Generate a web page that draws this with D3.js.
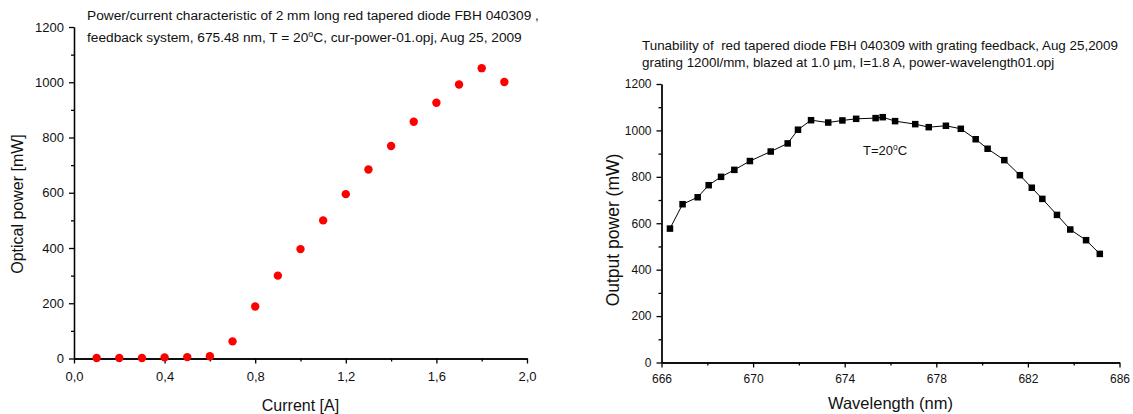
<!DOCTYPE html>
<html>
<head>
<meta charset="utf-8">
<script src="https://cdn.jsdelivr.net/npm/d3@7"></script>
<style>
  body { margin: 0; background: #fff; }
  svg { display: block; font-family: "Liberation Sans", Arial, sans-serif; }
  .domain { stroke: #000; stroke-width: 1.3; }
  .tick line { stroke: #000; stroke-width: 1.3; }
  .tick text { fill: #111; }
</style>
</head>
<body>
<svg id="canvas" width="1133" height="414"></svg>
<script>
// left chart: power vs current
const currentA = [0.1, 0.2, 0.3, 0.4, 0.5, 0.6, 0.7, 0.8, 0.9, 1.0, 1.1, 1.2, 1.3, 1.4, 1.5, 1.6, 1.7, 1.8, 1.9]
const opticalMW = [2, 2, 2, 4, 5, 8, 62, 188, 300, 396, 500, 595, 684, 769, 857, 926, 992, 1051, 1001]
const currentTicks = [0, 0.4, 0.8, 1.2, 1.6, 2.0]
const currentMinor = [0.2, 0.6, 1.0, 1.4, 1.8]
const powerTicks = [0, 200, 400, 600, 800, 1000, 1200]
const powerMinor = [100, 300, 500, 700, 900, 1100]

// right chart: tunability
const wavelengthNm = [666.37, 666.92, 667.58, 668.06, 668.6, 669.18, 669.86, 670.77, 671.51, 671.96,
  672.53, 673.28, 673.9, 674.5, 675.35, 675.66, 676.2, 677.08, 677.67, 678.42, 679.07, 679.72,
  680.24, 680.97, 681.65, 682.17, 682.63, 683.27, 683.85, 684.54, 685.14]
const outputMW = [577, 682, 712, 764, 800, 830, 868, 909, 944, 1003, 1044, 1034, 1043, 1050, 1053,
  1057, 1040, 1027, 1014, 1020, 1007, 962, 921, 872, 807, 753, 705, 636, 573, 527, 468]
const waveTicks = [666, 670, 674, 678, 682, 686]
const waveMinor = [668, 672, 676, 680, 684]

const svg = d3.select("#canvas")

// adds major + minor ticks for one axis
const drawAxis = (g, axisFn, scale, major, minor, fmt, fontSize, pad) => {
    g.append("g").call(axisFn(scale).tickValues(minor).tickFormat("").tickSize(3).tickSizeOuter(0))
    const a = g.append("g").call(axisFn(scale).tickValues(major).tickFormat(fmt).tickSize(5).tickSizeOuter(0).tickPadding(pad))
    a.selectAll(".tick text").attr("font-size", fontSize)
    g.selectAll("text").attr("font-family", null)
    return a
}

const addTitle = (x, y, lines, gap, size) => {
    const t = svg.append("text").attr("x", x).attr("y", y).attr("font-size", size).attr("fill", "#111")
    lines.forEach((parts, i) => {
        parts.forEach((p, j) => {
            const ts = t.append("tspan").text(p.t)
            if (j === 0) ts.attr("x", x).attr("dy", i === 0 ? 0 : gap)
            if (p.sup) ts.attr("font-size", size * 0.65).attr("baseline-shift", "60%")
        })
    })
}

// ---------- left ----------
const xL = d3.scaleLinear().domain([0, 2]).range([74, 527])
const yL = d3.scaleLinear().domain([0, 1200]).range([358.5, 27])
const commaFmt = d => d3.format(".1f")(d).replace(".", ",")

const gLx = svg.append("g").attr("transform", `translate(0,${yL(0)})`)
drawAxis(gLx, d3.axisBottom, xL, currentTicks, currentMinor, commaFmt, 13, 8)
const gLy = svg.append("g").attr("transform", `translate(${xL(0)},0)`)
drawAxis(gLy, d3.axisLeft, yL, powerTicks, powerMinor, d3.format("d"), 13, 5)

svg.append("g").selectAll("circle")
    .data(currentA.map((c, i) => [c, opticalMW[i]]))
    .enter().append("circle")
    .attr("cx", d => xL(d[0]))
    .attr("cy", d => yL(d[1]))
    .attr("r", 4.2)
    .attr("fill", "#ff0000")

svg.append("text").attr("x", 300.5).attr("y", 411).attr("text-anchor", "middle")
    .attr("font-size", 16).attr("fill", "#111").text("Current [A]")
svg.append("text").attr("transform", "translate(23,204) rotate(-90)").attr("text-anchor", "middle")
    .attr("font-size", 16).attr("fill", "#111").text("Optical power [mW]")

addTitle(87, 20, [
    [{t: "Power/current characteristic of 2 mm long red tapered diode FBH 040309 ,"}],
    [{t: "feedback system, 675.48 nm, T = 20"}, {t: "o", sup: true}, {t: "C, cur-power-01.opj, Aug 25, 2009"}]
], 21.5, 13.7)

// ---------- right ----------
const xR = d3.scaleLinear().domain([666, 686]).range([661.5, 1119.5])
const yR = d3.scaleLinear().domain([0, 1200]).range([362.5, 84])

const gRx = svg.append("g").attr("transform", `translate(0,${yR(0)})`)
drawAxis(gRx, d3.axisBottom, xR, waveTicks, waveMinor, d3.format("d"), 12, 7)
const gRy = svg.append("g").attr("transform", `translate(${xR(666)},0)`)
drawAxis(gRy, d3.axisLeft, yR, powerTicks, powerMinor, d3.format("d"), 12, 5)

const pts = wavelengthNm.map((w, i) => [w, outputMW[i]])
svg.append("path")
    .datum(pts)
    .attr("fill", "none")
    .attr("stroke", "#000")
    .attr("stroke-width", 1)
    .attr("d", d3.line().x(d => xR(d[0])).y(d => yR(d[1])))

const sq = 6.5
svg.append("g").selectAll("rect")
    .data(pts)
    .enter().append("rect")
    .attr("x", d => xR(d[0]) - sq / 2)
    .attr("y", d => yR(d[1]) - sq / 2)
    .attr("width", sq)
    .attr("height", sq)
    .attr("fill", "#000")

const tl = svg.append("text").attr("x", 863).attr("y", 155).attr("font-size", 13).attr("fill", "#111")
tl.append("tspan").text("T=20")
tl.append("tspan").text("o").attr("font-size", 8.5).attr("baseline-shift", "60%")
tl.append("tspan").text("C")

svg.append("text").attr("x", 890.5).attr("y", 409).attr("text-anchor", "middle")
    .attr("font-size", 16.5).attr("fill", "#111").text("Wavelength (nm)")
svg.append("text").attr("transform", "translate(619,230) rotate(-90)").attr("text-anchor", "middle")
    .attr("font-size", 17.5).attr("fill", "#111").text("Output power (mW)")

addTitle(642, 49.5, [
    [{t: "Tunability of  red tapered diode FBH 040309 with grating feedback, Aug 25,2009"}],
    [{t: "grating 1200l/mm, blazed at 1.0 \u00b5m, I=1.8 A, power-wavelength01.opj"}]
], 17, 13.4)
svg.selectAll("text").attr("xml:space", "preserve").style("white-space", "pre")
</script>
</body>
</html>
